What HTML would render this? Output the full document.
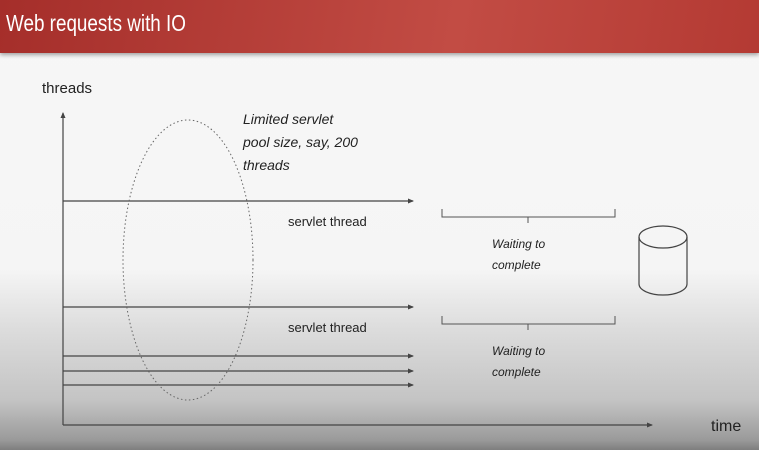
<!DOCTYPE html>
<html><head><meta charset="utf-8"><style>
html,body{margin:0;padding:0;width:759px;height:450px;overflow:hidden}
body{font-family:"Liberation Sans",sans-serif;background:linear-gradient(to bottom,#f7f7f7 0px,#f5f5f5 270px,#dcdcdc 330px,#c4c4c4 400px,#9a9a9a 440px,#7e7e7e 450px)}
#hdr{position:absolute;left:0;top:0;width:759px;height:53px;background:linear-gradient(100deg,#a52e2a,#c24c44 60%,#b43a33);box-shadow:0 2px 4px rgba(0,0,0,.35)}
#hdr span{position:absolute;left:6px;top:10px;color:#fff;font-size:23px;transform:scaleX(0.82);transform-origin:0 0;white-space:nowrap}
svg{position:absolute;left:0;top:0}
</style></head><body>
<div id="hdr"><span>Web requests with IO</span></div>
<svg width="759" height="450">
<defs><marker id="ar" markerWidth="6" markerHeight="5" refX="5" refY="2.5" orient="auto" markerUnits="userSpaceOnUse"><path d="M0,0L6,2.5L0,5z" fill="#444"/></marker></defs>
<text x="42" y="93" font-size="15" fill="#222">threads</text>
<line x1="63" y1="425" x2="63" y2="113" stroke="#444" stroke-width="1.2" marker-end="url(#ar)"/>
<line x1="63" y1="425" x2="652" y2="425" stroke="#444" stroke-width="1.2" marker-end="url(#ar)"/>
<text x="711" y="431" font-size="16" fill="#222">time</text>
<g stroke="#444" stroke-width="1.2">
<line x1="63" y1="201" x2="413" y2="201" marker-end="url(#ar)"/>
<line x1="63" y1="307" x2="413" y2="307" marker-end="url(#ar)"/>
<line x1="63" y1="356" x2="413" y2="356" marker-end="url(#ar)"/>
<line x1="63" y1="371" x2="413" y2="371" marker-end="url(#ar)"/>
<line x1="63" y1="385" x2="413" y2="385" marker-end="url(#ar)"/>
</g>
<ellipse cx="188" cy="260" rx="65" ry="140" fill="none" stroke="#666" stroke-width="1" stroke-dasharray="1.5,2.5"/>
<g font-family="'Liberation Sans',sans-serif" font-style="italic" font-size="14" fill="#222">
<text x="243" y="124">Limited servlet</text><text x="243" y="147">pool size, say, 200</text><text x="243" y="170">threads</text></g>
<text x="288" y="226" font-size="13" fill="#222">servlet thread</text>
<text x="288" y="332" font-size="13" fill="#222">servlet thread</text>
<g fill="none" stroke="#555" stroke-width="1">
<path d="M442,209V217H615V209M528,217V223"/>
<path d="M442,316V324H615V316M528,324V330"/>
</g>
<g font-style="italic" font-size="12" fill="#222">
<text x="492" y="248">Waiting to</text>
<text x="492" y="269">complete</text>
<text x="492" y="355">Waiting to</text>
<text x="492" y="376">complete</text>
</g>
<g fill="none" stroke="#444" stroke-width="1.2">
<ellipse cx="663" cy="237" rx="24" ry="11"/>
<path d="M639,237V284A24,11 0 0 0 687,284V237"/>
</g>
</svg>
</body></html>
